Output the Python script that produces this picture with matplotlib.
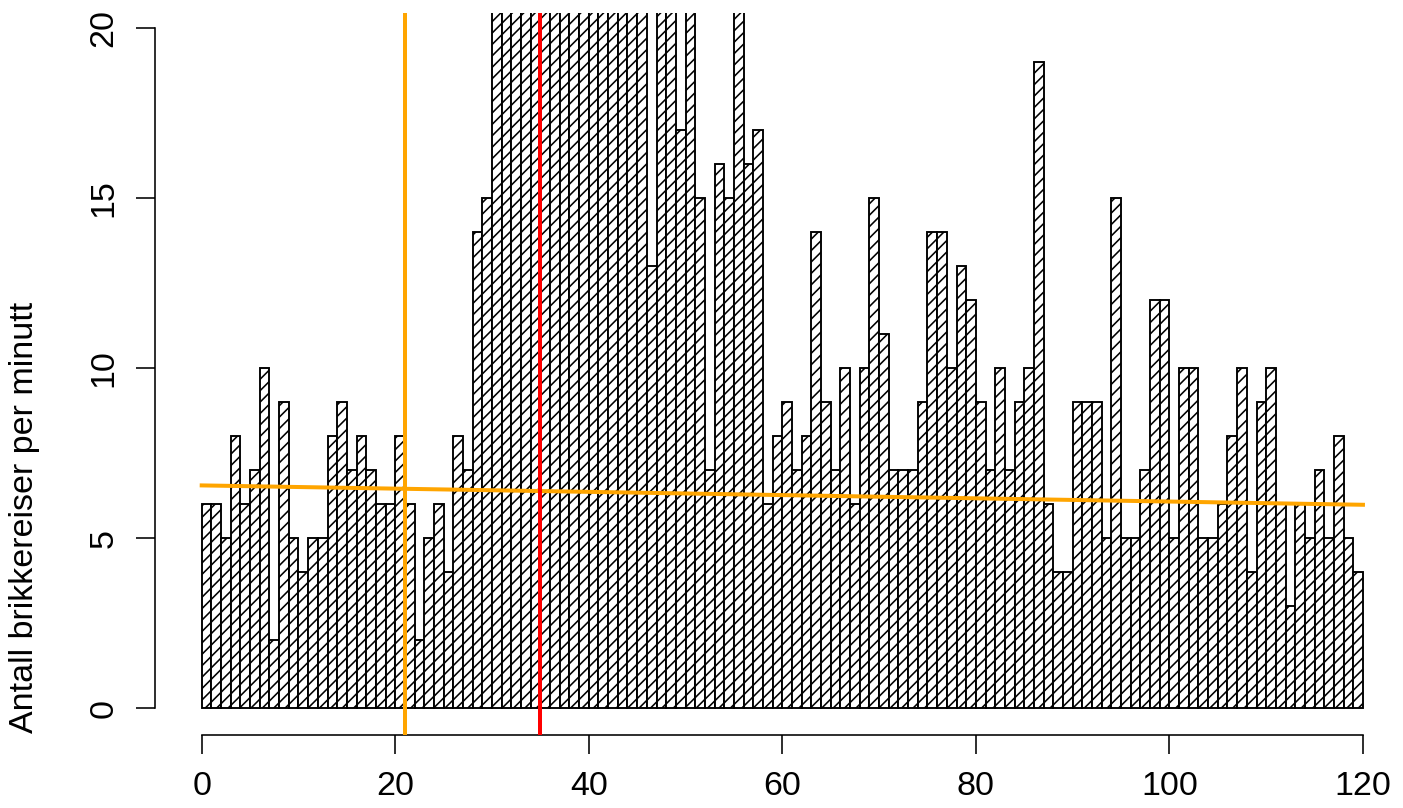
import numpy as np
import matplotlib
matplotlib.use("Agg")
import matplotlib.pyplot as plt

# bar heights per minute (0..119); bars that run past the top of the axis are clipped
counts = [
    6, 6, 5, 8, 6, 7, 10, 2, 9, 5,
    4, 5, 5, 8, 9, 7, 8, 7, 6, 6,
    8, 6, 2, 5, 6, 4, 8, 7, 14, 15,
    24, 27, 29, 31, 30, 33, 28, 30, 26, 27,
    25, 29, 24, 26, 23, 25, 13, 22, 23, 17,
    21, 15, 7, 16, 15, 22, 16, 17, 6, 8,
    9, 7, 8, 14, 9, 7, 10, 6, 10, 15,
    11, 7, 7, 7, 9, 14, 14, 10, 13, 12,
    9, 7, 10, 7, 9, 10, 19, 6, 4, 4,
    9, 9, 9, 5, 15, 5, 5, 7, 12, 12,
    5, 10, 10, 5, 5, 6, 8, 10, 4, 9,
    10, 6, 3, 6, 5, 7, 5, 8, 5, 4,
]
bin_start = 0
bin_width = 1

# trend line end points and the two marker minutes
trend_x = [0, 120]
trend_y = [6.55, 5.98]
orange_minute = 21
red_minute = 35

x_ticks = [0, 20, 40, 60, 80, 100, 120]
y_ticks = [0, 5, 10, 15, 20]
y_label = "Antall brikkereiser per minutt"

W, H, DPI = 1403, 808, 137


def px(v):
    # pixels -> points at the output dpi
    return v * 72.0 / DPI


plt.rcParams["font.family"] = ["Liberation Sans", "DejaVu Sans"]
plt.rcParams["hatch.linewidth"] = px(1.6)

fig = plt.figure(figsize=(W / DPI, H / DPI), dpi=DPI)
ax = fig.add_axes([155.25 / W, (808 - 735.2) / H, 1254.15 / W, 722.2 / H])

edges = bin_start + bin_width * np.arange(len(counts))
ax.bar(edges, counts, width=bin_width, align="edge", facecolor="white",
       edgecolor="black", linewidth=px(1.9), hatch="////", zorder=2)

ax.plot(trend_x, trend_y, color="#FFA500", linewidth=px(4), zorder=3)
ax.axvline(orange_minute, color="#FFA500", linewidth=px(4), zorder=3)
ax.axvline(red_minute, color="#FF0000", linewidth=px(4), zorder=3)

ax.set_xlim(-4.8, 124.8)
ax.set_ylim(-0.8, 20.45)

for side in ["top", "right"]:
    ax.spines[side].set_visible(False)
ax.spines["left"].set_bounds(0, 20)
ax.spines["bottom"].set_bounds(0, 120)
for side in ["left", "bottom"]:
    ax.spines[side].set_linewidth(px(1.6))

ax.set_xticks(x_ticks)
ax.set_yticks(y_ticks)
ax.tick_params(axis="both", direction="out", length=px(19), width=px(1.6),
               labelsize=px(34))
ax.tick_params(axis="x", pad=px(17))
ax.tick_params(axis="y", pad=px(17), labelrotation=90)
for lab in ax.get_yticklabels():
    lab.set_verticalalignment("center")

fig.text(33 / W, (808 - 733) / H, y_label, rotation=90, rotation_mode="anchor",
         ha="left", va="baseline", fontsize=px(34))

fig.savefig("out.png", dpi=DPI)
